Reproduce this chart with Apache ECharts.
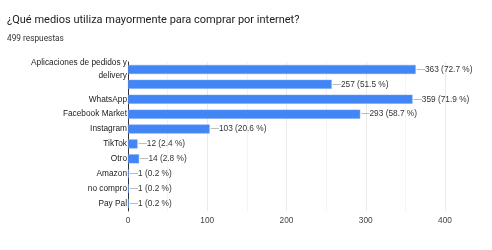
<!DOCTYPE html>
<html>
<head>
<meta charset="utf-8">
<script src="https://cdn.jsdelivr.net/npm/echarts@6/dist/echarts.min.js"></script>
<style>
  html, body { margin: 0; padding: 0; background: #fff; }
  #chart { width: 492px; height: 250px; }
</style>
</head>
<body>
<div id="chart"></div>
<script>
// data
const categories = [
  "Aplicaciones de pedidos y\ndelivery",
  "",
  "WhatsApp",
  "Facebook Market",
  "Instagram",
  "TikTok",
  "Otro",
  "Amazon",
  "no compro",
  "Pay Pal"
];
const counts = [363, 257, 359, 293, 103, 12, 14, 1, 1, 1];
const percents = ["72.7", "51.5", "71.9", "58.7", "20.6", "2.4", "2.8", "0.2", "0.2", "0.2"];
const xTicks = [0, 100, 200, 300, 400];

const sans = "'Liberation Sans', Arial, sans-serif";

let myChart = echarts.init(document.getElementById("chart"));
myChart.setOption({
  animation: false,
  title: {
    text: "¿Qué medios utiliza mayormente para comprar por internet?",
    subtext: "499 respuestas",
    left: 2,
    top: 10,
    itemGap: 9,
    textStyle: {
      fontFamily: "Roboto",
      fontSize: 11,
      fontWeight: "normal",
      color: "#202124"
    },
    subtextStyle: {
      fontFamily: "Roboto",
      fontSize: 8.3,
      color: "#333"
    }
  },
  grid: {
    left: 128,
    right: 47,
    top: 62,
    bottom: 39
  },
  xAxis: {
    type: "value",
    min: xTicks[0],
    max: xTicks[xTicks.length - 1],
    interval: 100,
    axisLine: { show: false },
    axisTick: { show: false },
    axisLabel: {
      fontFamily: sans,
      fontSize: 8.3,
      color: "#444",
      margin: 6
    },
    splitLine: { lineStyle: { color: "#ebebeb" } },
    minorTick: { show: false, splitNumber: 2 },
    minorSplitLine: { show: true, lineStyle: { color: "#f4f4f4" } }
  },
  yAxis: {
    type: "category",
    data: categories,
    inverse: true,
    axisLine: { lineStyle: { color: "#333" } },
    axisTick: { show: false },
    axisLabel: {
      fontFamily: sans,
      fontSize: 8.3,
      color: "#222",
      margin: 1,
      lineHeight: 13
    }
  },
  series: [
    {
      type: "bar",
      data: counts,
      barWidth: 9,
      itemStyle: {
        color: "#4285f4",
        borderColor: "#6fa0f6",
        borderWidth: 0.5
      },
      label: {
        show: true,
        position: "right",
        distance: 1,
        formatter: p => "{l|—}{v|" + p.value + " (" + percents[p.dataIndex] + " %)}",
        rich: {
          l: { color: "#999", fontSize: 8.3, fontFamily: sans },
          v: { color: "#333", fontSize: 8.3, fontFamily: sans }
        }
      }
    }
  ]
});
</script>
</body>
</html>
